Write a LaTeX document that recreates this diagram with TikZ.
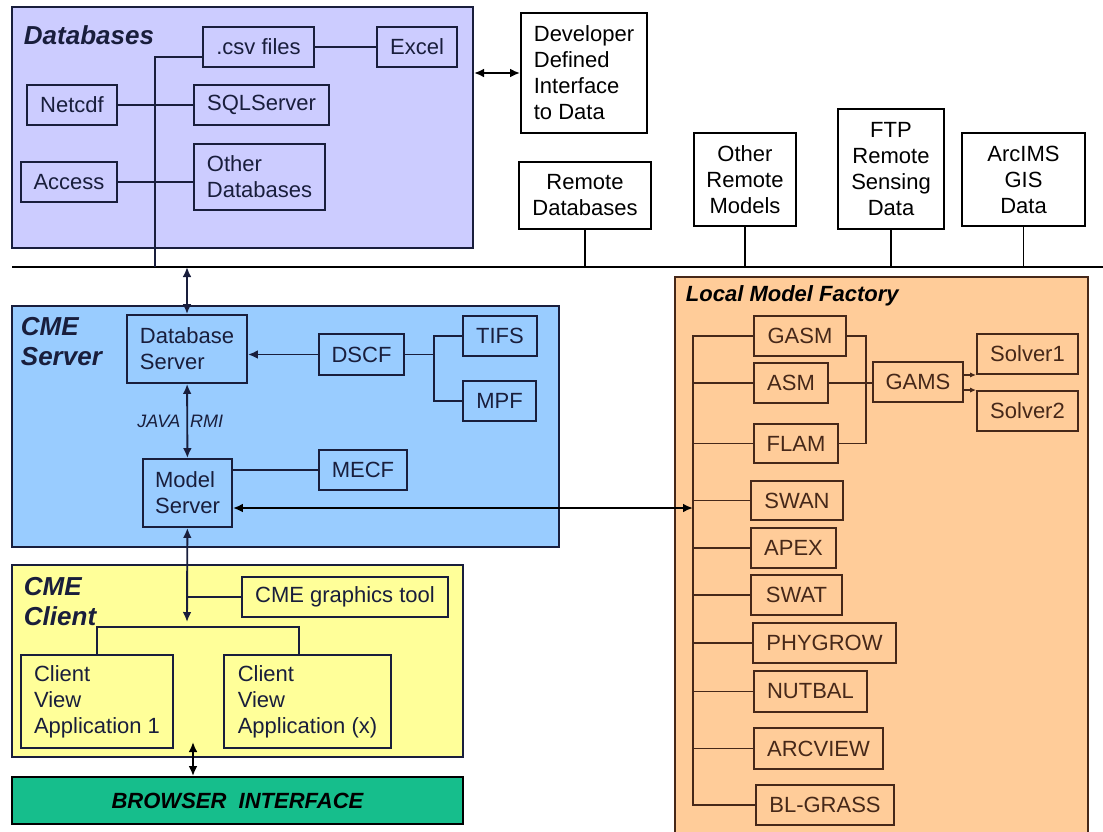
\documentclass[tikz,border=0pt]{standalone}
\usepackage{fontspec}
\setmainfont{Liberation Sans}
\usetikzlibrary{arrows.meta}

\definecolor{dbfill}{RGB}{204,204,255}
\definecolor{srvfill}{RGB}{153,204,255}
\definecolor{clifill}{RGB}{255,255,153}
\definecolor{lmffill}{RGB}{255,204,153}
\definecolor{brfill}{RGB}{22,190,140}
\definecolor{navyline}{RGB}{25,30,60}
\definecolor{brownline}{RGB}{70,40,25}

\tikzset{
  wh/.style 2 args={minimum width=#1*0.5pt, minimum height=#2*0.5pt},
  panel/.style={draw, line width=1pt, inner sep=0pt},
  box/.style={draw, inner sep=0pt, align=center, font=\fontsize{11}{13}\selectfont},
  boxl/.style={box, align=left},
  title/.style={anchor=west, inner sep=0pt, align=left, font=\fontsize{13}{15}\selectfont\bfseries\itshape},
  jrmi/.style={font=\fontsize{9}{11}\selectfont\itshape}
}

\begin{document}
\begin{tikzpicture}[x=0.5pt, y=-0.5pt, line width=0.95pt, color=navyline,
    >={Latex[length=5pt,width=4.4pt]}]
    \useasboundingbox (0,0) rectangle (1103,831);

    % Layer panels
    \node[panel, fill=dbfill, wh={461}{241}] (dbpanel) at (242.5,127.5) {};
    \node[panel, fill=srvfill, wh={547}{241}] (srvpanel) at (285.5,426.5) {};
    \node[panel, fill=clifill, wh={451}{192}] (clipanel) at (237.5,661) {};
    \node[panel, fill=lmffill, draw=brownline, wh={413}{558}] (lmfpanel) at (881.5,556) {};

    % Panel titles
    \node[title] (dbtitle) at (23,35) {Databases};
    \node[title] (srvtitle) at (20,342) {CME\\Server};
    \node[title] (clititle) at (23,602) {CME\\Client};
    \node[title, font=\fontsize{11}{13}\selectfont\bfseries\itshape, color=black] (lmftitle) at (685,296) {Local Model Factory};

    % Databases
    \node[box, wh={111}{40}] (csv) at (258.5,47) {.csv files};
    \node[box, wh={80}{40}] (excel) at (417,47) {Excel};
    \node[box, wh={90}{40}] (netcdf) at (72,105) {Netcdf};
    \node[box, wh={135}{40}] (sql) at (261.5,105) {SQLServer};
    \node[box, wh={96}{40}] (access) at (69,182) {Access};
    \node[boxl, wh={131}{66}] (otherdb) at (259.5,177) {Other\\Databases};

    % Remote sources on the bus
    \begin{scope}[color=black]
        \node[boxl, wh={126}{120}] (dev) at (584,73) {Developer\\Defined\\Interface\\to Data};
        \node[box, wh={132}{67}] (remdb) at (585,195.5) {Remote\\Databases};
        \node[box, wh={102}{93}] (othmod) at (745,179.5) {Other\\Remote\\Models};
        \node[box, wh={106}{120}] (ftp) at (891,169) {FTP\\Remote\\Sensing\\Data};
        \node[box, wh={123}{93}] (arcims) at (1023.5,179.5) {ArcIMS\\GIS\\Data};

        \coordinate (busL) at (12,267);
        \coordinate (busR) at (1103,267);
        \draw (busL) -- (busR);  % network bus
        \foreach \n in {remdb,othmod,ftp,arcims}
            \draw (\n) -- (\n |- busL);
        \draw[<->] (dbpanel.east |- dev.west) -- (dev.west);
    \end{scope}

    % Database links
    \coordinate (csvdrop) at (155,267);
    \draw (csv.190) -| (csvdrop);
    \draw (csv) -- (excel);
    \draw (netcdf) -- (sql);
    \draw (access) -- (access -| otherdb.west);

    % CME Server
    \node[boxl, wh={120}{68}] (dbsrv) at (187,349) {Database\\Server};
    \node[box, wh={85}{41}] (dscf) at (361.5,354.5) {DSCF};
    \node[box, wh={74}{40}] (tifs) at (500,336) {TIFS};
    \node[box, wh={73}{40}] (mpf) at (499.5,401) {MPF};
    \node[boxl, wh={89}{68}] (model) at (187.5,493) {Model\\Server};
    \node[box, wh={88}{40}] (mecf) at (363,470) {MECF};

    \draw[<->] (dbsrv.north |- busL) -- (dbsrv.north);
    \draw[->] (dscf.west) -- (dscf.west -| dbsrv.east);
    \coordinate (dscfj) at (434,354.5);
    \draw (dscf) -- (dscfj) |- (tifs);
    \draw (dscfj) |- (mpf);
    \draw[<->] (dbsrv) -- (model)
        node[midway, left, jrmi, inner sep=3pt] (java) {JAVA}
        node[midway, right, jrmi, inner sep=1pt] (rmi) {RMI};
    \draw (mecf) -- (mecf -| model.east);
    \coordinate (trunkin) at (693,508);
    \draw[<->, color=black] (trunkin -| model.east) -- (trunkin);

    % CME Client
    \node[box, wh={206}{40}] (gtool) at (345,597) {CME graphics tool};
    \node[boxl, wh={152}{93}] (client1) at (97,701.5) {Client\\View\\Application 1};
    \node[boxl, wh={167}{93}] (clientx) at (307.5,701.5) {Client\\View\\Application (x)};
    \node[box, color=black, fill=brfill, wh={451}{47}, font=\fontsize{11}{13}\selectfont\bfseries\itshape] (browser) at (237.5,800.5) {BROWSER\ \ INTERFACE};

    \coordinate (clisplit) at (187,622);
    \draw[<->] (model) -- (clisplit);
    \draw (gtool) -- (gtool -| clisplit);
    \coordinate (splitR) at (299,627);
    \draw (client1) |- (splitR) -- (splitR |- clientx.north);
    \coordinate (cvout) at (193,742);
    \draw[<->, color=black] (cvout) -- (cvout |- browser.north);

    % Local Model Factory
    \begin{scope}[color=brownline]
        \node[box, wh={92}{40}] (gasm) at (800,336) {GASM};
        \node[box, wh={74}{40}] (asm) at (791,383) {ASM};
        \node[box, wh={84}{39}] (flam) at (796,443.5) {FLAM};
        \node[box, wh={92}{39}] (swan) at (797,500.5) {SWAN};
        \node[box, wh={85}{40}] (apex) at (793.5,548) {APEX};
        \node[box, wh={91}{40}] (swat) at (796.5,595) {SWAT};
        \node[box, wh={143}{40}] (phygrow) at (824.5,643) {PHYGROW};
        \node[box, wh={113}{41}] (nutbal) at (810.5,691.5) {NUTBAL};
        \node[box, wh={129}{41}] (arcview) at (818.5,748.5) {ARCVIEW};
        \node[box, wh={138}{40}] (blgrass) at (825,805) {BL-GRASS};
        \node[box, wh={90}{40}] (gams) at (918,382) {GAMS};
        \node[box, wh={101}{40}] (solver1) at (1027.5,354) {Solver1};
        \node[box, wh={101}{40}] (solver2) at (1027.5,411) {Solver2};

        \coordinate (trunktop) at (693,336);
        \coordinate (trunkbot) at (693,805);
        \draw (gasm) -- (trunktop) -- (trunkbot) -- (blgrass);
        \foreach \n in {asm,flam,swan,apex,swat,phygrow,nutbal,arcview}
            \draw (\n) -- (\n -| trunktop);
        \coordinate (gamsj) at (866,383);
        \draw (gasm) -| (gamsj) |- (flam);
        \draw (asm) -- (asm -| gams.west);
        \draw[-{Latex[length=3pt,width=2.6pt]}] (gams.east |- solver1.south west) -- (solver1.south west);
        \draw[-{Latex[length=3pt,width=2.6pt]}] (gams.east |- solver2.north west) -- (solver2.north west);
    \end{scope}
\end{tikzpicture}
\end{document}
